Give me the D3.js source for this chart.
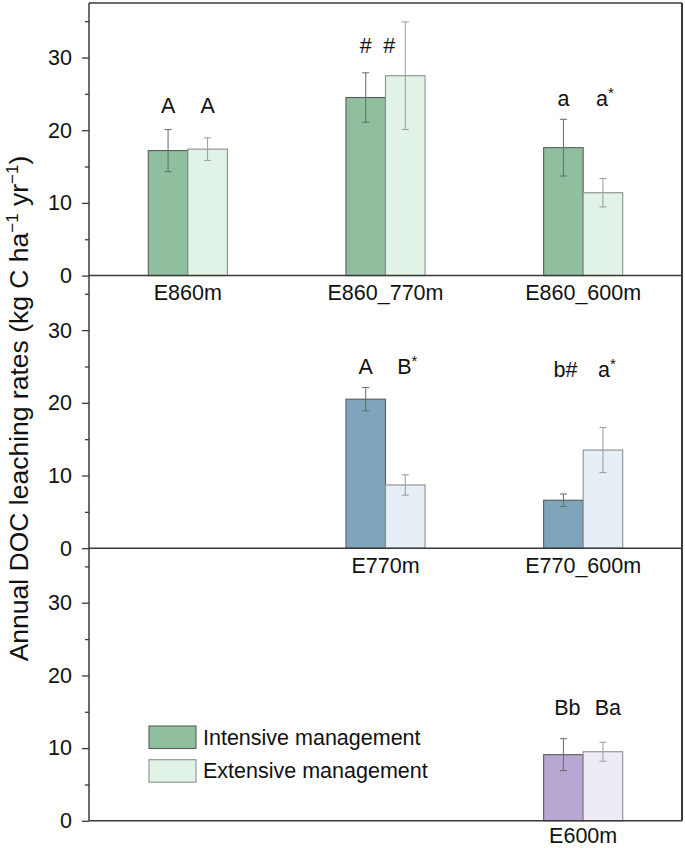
<!DOCTYPE html>
<html>
<head>
<meta charset="utf-8">
<script src="https://cdn.jsdelivr.net/npm/d3@7"></script>
<style>
  html, body { margin: 0; padding: 0; background: #fff; }
  svg { display: block; font-family: "Liberation Sans", Arial, sans-serif; }
</style>
</head>
<body>
<svg id="chart" width="685" height="848"></svg>
<script>
// ---------- data ----------
const slots = [0, 1, 2];
const panelNames = ["E860", "E770", "E600"];
// categories per panel, with slot index
const panel1Categories = ["E860m", "E860_770m", "E860_600m"];
const panel1Slots = [0, 1, 2];
const panel2Categories = ["E770m", "E770_600m"];
const panel2Slots = [1, 2];
const panel3Categories = ["E600m"];
const panel3Slots = [2];

const panel1Intensive = [17.2, 24.5, 17.6];
const panel1IntensiveErr = [2.9, 3.4, 3.9];
const panel1Extensive = [17.4, 27.5, 11.4];
const panel1ExtensiveErr = [1.55, 7.4, 1.95];

const panel2Intensive = [20.5, 6.6];
const panel2IntensiveErr = [1.6, 0.85];
const panel2Extensive = [8.7, 13.5];
const panel2ExtensiveErr = [1.4, 3.1];

const panel3Intensive = [9.1];
const panel3IntensiveErr = [2.2];
const panel3Extensive = [9.5];
const panel3ExtensiveErr = [1.3];

// significance letters: [intensive, extensive] (text, superscript)
const panel1Letters = [[["A",""],["A",""]], [["#",""],["#",""]], [["a",""],["a","*"]]];
const panel1LetterLevel = [22.4, 30.6, 23.3];
const panel2Letters = [[["A",""],["B","*"]], [["b#",""],["a","*"]]];
const panel2LetterLevel = [23.9, 23.5];
const panel3Letters = [[["Bb",""],["Ba",""]]];
const panel3LetterLevel = [14.5];

const seriesNames = ["Intensive management", "Extensive management"];
const yTicks = [0, 10, 20, 30];
const yMinorTicks = [5, 15, 25, 35];
const yMax = 37.5;

// ---------- styles ----------
const panelColors = [
  { int: "#8fbf9e", ext: "#e0f3e6" },
  { int: "#7fa5bd", ext: "#e6eef6" },
  { int: "#b9a7d3", ext: "#eeebf4" }
];
const axisColor = "#3a3a3a";
const fontSize = 21.5;

// ---------- layout ----------
const svg = d3.select("#chart");
const plotLeft = 89, plotRight = 682, plotTop = 3;
const panelH = 272.6;

const x = d3.scaleBand().domain(slots).range([plotLeft, plotRight]).paddingInner(0).paddingOuter(0);
const barW = x.bandwidth() * 0.2;

const panels = [
  { cats: panel1Categories, slots: panel1Slots, int: panel1Intensive, intE: panel1IntensiveErr, ext: panel1Extensive, extE: panel1ExtensiveErr, letters: panel1Letters, level: panel1LetterLevel },
  { cats: panel2Categories, slots: panel2Slots, int: panel2Intensive, intE: panel2IntensiveErr, ext: panel2Extensive, extE: panel2ExtensiveErr, letters: panel2Letters, level: panel2LetterLevel },
  { cats: panel3Categories, slots: panel3Slots, int: panel3Intensive, intE: panel3IntensiveErr, ext: panel3Extensive, extE: panel3ExtensiveErr, letters: panel3Letters, level: panel3LetterLevel }
];

// small horizontal tweaks (panel-row-side) for letters not centered on their bars
const letterDx = { "0-1-1": -16, "0-2-1": 2, "1-0-1": 2, "1-1-0": 2, "1-1-1": 4, "2-0-0": 4, "2-0-1": 5 };

panels.forEach((p, pi) => {
  const y0 = plotTop + pi * panelH;
  const y = d3.scaleLinear().domain([0, yMax]).range([y0 + panelH, y0]);
  const g = svg.append("g");
  const col = panelColors[pi];

  const rows = p.cats.map((c, i) => ({ c, slot: p.slots[i], i }));

  // bars
  rows.forEach(r => {
    const cx = x(r.slot) + x.bandwidth() / 2;
    [["int", -barW], ["ext", 0]].forEach(([k, off]) => {
      const v = k === "int" ? p.int[r.i] : p.ext[r.i];
      g.append("rect")
        .attr("x", cx + off).attr("y", y(v))
        .attr("width", barW).attr("height", y(0) - y(v))
        .attr("fill", col[k])
        .attr("stroke", k === "int" ? "#5c5c5c" : "#8e8e8e")
        .attr("stroke-width", 1.1);
    });
  });

  // error bars
  rows.forEach(r => {
    const cx = x(r.slot) + x.bandwidth() / 2;
    [["int", -barW / 2], ["ext", barW / 2]].forEach(([k, off]) => {
      const v = k === "int" ? p.int[r.i] : p.ext[r.i];
      const e = k === "int" ? p.intE[r.i] : p.extE[r.i];
      const bx = cx + off;
      const stroke = k === "int" ? "#5e6e66" : "#9a9a9a";
      const eg = g.append("g").attr("stroke", stroke).attr("stroke-width", 1);
      eg.append("line").attr("x1", bx).attr("x2", bx).attr("y1", y(v + e)).attr("y2", y(v - e));
      eg.append("line").attr("x1", bx - 3.5).attr("x2", bx + 3.5).attr("y1", y(v + e)).attr("y2", y(v + e));
      eg.append("line").attr("x1", bx - 3.5).attr("x2", bx + 3.5).attr("y1", y(v - e)).attr("y2", y(v - e));
    });
  });

  // letters
  rows.forEach(r => {
    const cx = x(r.slot) + x.bandwidth() / 2;
    [0, 1].forEach(s => {
      const [txt, sup] = p.letters[r.i][s];
      const bx = cx + (s === 0 ? -barW / 2 : barW / 2);
      const dx = letterDx[pi + "-" + r.i + "-" + s] || 0;
      const t = g.append("text")
        .attr("x", bx + dx).attr("y", y(p.level[r.i]))
        .attr("text-anchor", "middle")
        .attr("font-size", fontSize).attr("fill", "#111");
      t.append("tspan").text(txt);
      if (sup) t.append("tspan").attr("font-size", 15).attr("dy", -8).text(sup);
    });
  });

  // category labels
  const labelOffset = pi === 2 ? 22.5 : 24.5;
  rows.forEach(r => {
    g.append("text")
      .attr("x", x(r.slot) + x.bandwidth() / 2)
      .attr("y", y(0) + labelOffset)
      .attr("text-anchor", "middle")
      .attr("font-size", fontSize).attr("fill", "#111")
      .text(r.c);
  });

  // zero line (panel bottom)
  g.append("line").attr("x1", plotLeft).attr("x2", plotRight).attr("y1", y(0)).attr("y2", y(0))
    .attr("stroke", axisColor).attr("stroke-width", 1.5);

  // y axis
  const ax = g.append("g").attr("transform", `translate(${plotLeft},0)`)
    .call(d3.axisLeft(y).tickValues(yTicks).tickSize(7).tickPadding(10).tickFormat(d3.format("d")));
  ax.select(".domain").remove();
  ax.selectAll(".tick line").attr("stroke", axisColor).attr("stroke-width", 1.3);
  ax.selectAll(".tick text").attr("font-size", fontSize).attr("fill", "#111")
    .attr("font-family", "Liberation Sans, Arial, sans-serif");
  const mn = g.append("g").attr("transform", `translate(${plotLeft},0)`)
    .call(d3.axisLeft(y).tickValues(yMinorTicks).tickSize(4).tickFormat(""));
  mn.select(".domain").remove();
  mn.selectAll(".tick line").attr("stroke", axisColor).attr("stroke-width", 1.3);
});

// frame
const plotBottom = plotTop + 3 * panelH;
svg.append("line").attr("x1", plotLeft).attr("x2", plotLeft).attr("y1", plotTop).attr("y2", plotBottom)
  .attr("stroke", axisColor).attr("stroke-width", 1.5);
svg.append("line").attr("x1", plotLeft).attr("x2", plotRight).attr("y1", plotTop).attr("y2", plotTop)
  .attr("stroke", axisColor).attr("stroke-width", 1.5);
svg.append("line").attr("x1", plotRight).attr("x2", plotRight).attr("y1", plotTop).attr("y2", plotBottom)
  .attr("stroke", axisColor).attr("stroke-width", 2);

// legend
const legend = svg.append("g");
const legColors = [panelColors[0].int, panelColors[0].ext];
seriesNames.forEach((n, i) => {
  const ly = 726 + i * 33.7;
  legend.append("rect").attr("x", 149).attr("y", ly).attr("width", 47).attr("height", 22.5)
    .attr("fill", legColors[i]).attr("stroke", i === 0 ? "#5c5c5c" : "#8e8e8e").attr("stroke-width", 1.1);
  legend.append("text").attr("x", 203).attr("y", ly + 18.5)
    .attr("font-size", fontSize).attr("fill", "#111").text(n);
});

// y-axis title
const yt = svg.append("text")
  .attr("transform", "translate(27.5,408.5) rotate(-90)")
  .attr("text-anchor", "middle")
  .attr("font-size", 26.5).attr("fill", "#111");
yt.append("tspan").text("Annual DOC leaching rates (kg C ha");
yt.append("tspan").attr("font-size", 17).attr("dy", -10).text("\u22121");
yt.append("tspan").attr("dy", 10).text(" yr");
yt.append("tspan").attr("font-size", 17).attr("dy", -10).text("\u22121");
yt.append("tspan").attr("dy", 10).text(")");
</script>
</body>
</html>
